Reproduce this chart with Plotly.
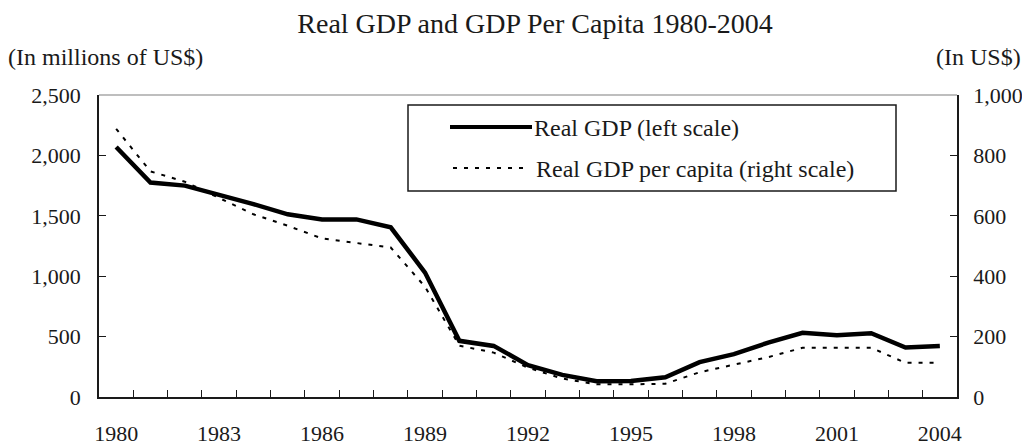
import plotly.graph_objects as go

years = list(range(1980, 2005))
real_gdp = [2070, 1775, 1750, 1675, 1597, 1512, 1470, 1470, 1405, 1030,
            465, 423, 264, 183, 131, 133, 164, 289, 355, 450,
            532, 511, 528, 410, 422]
gdp_per_capita = [888, 747, 713, 658, 605, 567, 525, 510, 495, 365,
                  170, 147, 97, 61, 42, 42, 44, 82, 108, 132,
                  163, 163, 163, 113, 113]
year_ticks = list(range(1980, 2005, 3))
left_ticks = [0, 500, 1000, 1500, 2000, 2500]
right_ticks = [0, 200, 400, 600, 800, 1000]
names = ['Real GDP (left scale)', 'Real GDP per capita (right scale)']

FONT = 'Liberation Serif'
INK = '#1a1a1a'

# the page body has an 8px margin, so the figure is drawn 8px in from the corner
OFF = 8
W, H = 1030 - OFF, 445 - OFF
# plot area in screen pixels: x 99..957, y 95..397
L, R, T, B = 99 - OFF, 1030 - 957, 95 - OFF, 445 - 397
PW, PH = W - L - R, H - T - B


def px(x):
    return (x - OFF - L) / PW


def py(y):
    return (H - B - (y - OFF)) / PH


fig = go.Figure()
fig.add_trace(go.Scatter(x=years, y=real_gdp, name=names[0], mode='lines',
                         line=dict(color='#000', width=4.5), yaxis='y'))
fig.add_trace(go.Scatter(x=years, y=gdp_per_capita, name=names[1], mode='lines',
                         line=dict(color='#000', width=2, dash='4px,7px'), yaxis='y2'))

tickfont = dict(family=FONT, size=22, color=INK)
fig.update_layout(
    width=W, height=H,
    margin=dict(l=L, r=R, t=T, b=B, autoexpand=False),
    paper_bgcolor='white', plot_bgcolor='white',
    showlegend=False,
    font=dict(family=FONT, size=24, color=INK),
    title=dict(text='Real GDP and GDP Per Capita 1980-2004', xref='container',
               yref='container', x=(535 - OFF) / W, xanchor='center',
               y=1 - (23 - OFF) / H, yanchor='middle',
               font=dict(family=FONT, size=28, color=INK)),
    xaxis=dict(range=[1979.5, 2004.5], tickmode='array', tickvals=year_ticks,
               ticks='', showgrid=False, zeroline=False, automargin=False,
               showline=True, linecolor=INK, linewidth=1.5,
               ticklabelstandoff=16, tickfont=tickfont,
               minor=dict(tickvals=[y + 0.5 for y in years[:-1]], ticks='inside',
                          ticklen=7, tickcolor=INK, tickwidth=1.3, showgrid=False)),
    yaxis=dict(range=[0, 2500], tickvals=left_ticks, tickformat=',d',
               ticks='inside', ticklen=7, tickcolor=INK, tickwidth=1.3,
               showgrid=False, zeroline=False, showline=True, automargin=False,
               linecolor=INK, linewidth=1.5, ticklabelstandoff=12, tickfont=tickfont),
    yaxis2=dict(range=[0, 1000], tickvals=right_ticks, tickformat=',d',
                overlaying='y', side='right', automargin=False,
                ticks='inside', ticklen=7, tickcolor=INK, tickwidth=1.3,
                showgrid=False, zeroline=False, showline=True,
                linecolor=INK, linewidth=1.5, ticklabelstandoff=10, tickfont=tickfont),
)

# gray top border of plot area
fig.add_shape(type='line', xref='paper', yref='paper', x0=0, x1=1, y0=1, y1=1,
              line=dict(color='#a8a8a8', width=1.5))

# legend box drawn by hand
fig.add_shape(type='rect', xref='paper', yref='paper',
              x0=px(408), x1=px(896), y0=py(191), y1=py(105),
              line=dict(color=INK, width=1.5), fillcolor='white')
fig.add_shape(type='line', xref='paper', yref='paper',
              x0=px(450), x1=px(532), y0=py(127), y1=py(127),
              line=dict(color='#000', width=4))
fig.add_shape(type='line', xref='paper', yref='paper',
              x0=px(453), x1=px(526), y0=py(168), y1=py(168),
              line=dict(color='#000', width=2, dash='4px,7px'))
fig.add_annotation(text=names[0], xref='paper', yref='paper', x=px(532), y=py(128),
                   xanchor='left', yanchor='middle', showarrow=False)
fig.add_annotation(text=names[1], xref='paper', yref='paper', x=px(534), y=py(169),
                   xanchor='left', yanchor='middle', showarrow=False)

# axis unit labels
fig.add_annotation(text='(In millions of US$)', xref='paper', yref='paper',
                   x=px(6), y=py(57), xanchor='left', yanchor='middle', showarrow=False)
fig.add_annotation(text='(In US$)', xref='paper', yref='paper',
                   x=px(1023), y=py(57), xanchor='right', yanchor='middle', showarrow=False)

fig.write_html('out.html')
